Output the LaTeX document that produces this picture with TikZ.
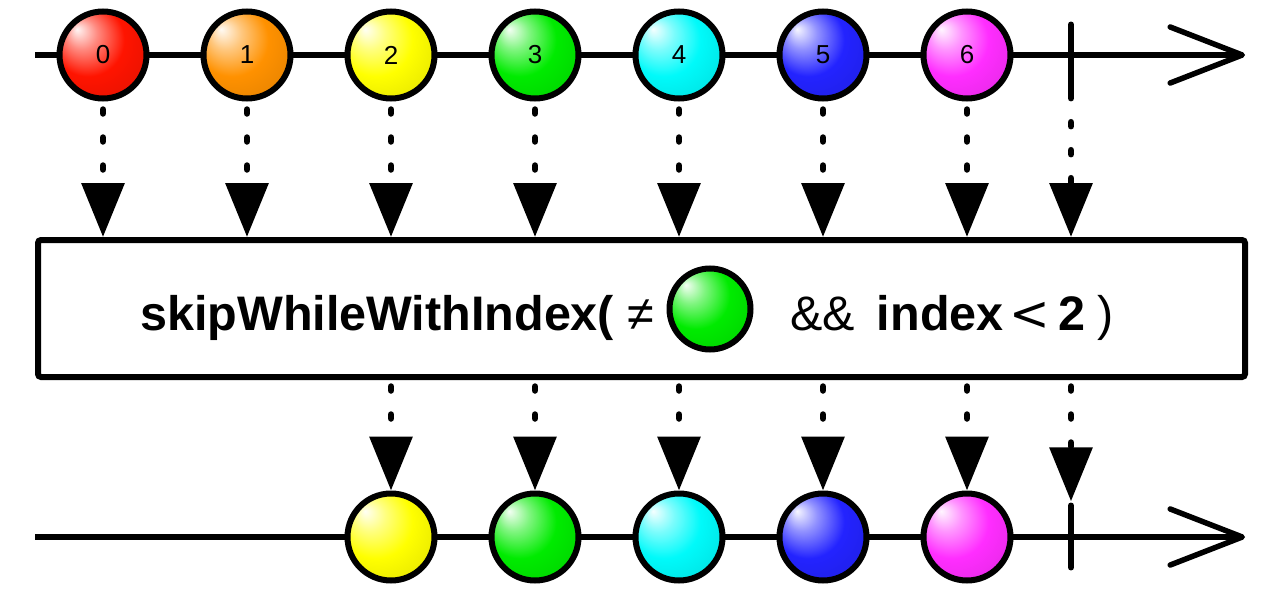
\documentclass[tikz,border=0pt]{standalone}
\usepackage{fontspec}
\setmainfont{Liberation Sans}
\newfontfamily\relfont{DejaVu Sans}
\usetikzlibrary{arrows.meta}

\definecolor{mred}{RGB}{255,20,0}
\definecolor{morange}{RGB}{255,145,0}
\definecolor{myellow}{RGB}{255,255,0}
\definecolor{mgreen}{RGB}{0,235,0}
\definecolor{mcyan}{RGB}{0,250,250}
\definecolor{mblue}{RGB}{35,35,255}
\definecolor{mmagenta}{RGB}{255,45,255}

\colorlet{marblecol}{mred}
\pgfdeclareradialshading[marblecol]{marble}{\pgfqpoint{-15bp}{15bp}}{%
  color(0bp)=(marblecol!4!white); color(9bp)=(marblecol!50!white);
  color(21bp)=(marblecol); color(36bp)=(marblecol!90!black);
  color(50bp)=(marblecol!65!black)}

\begin{document}
\begin{tikzpicture}[
    x=1pt, y=-1pt,
    marble/.style={circle, draw, line width=6pt, minimum size=87pt, inner sep=0pt,
      shading=marble, /utils/exec={\colorlet{marblecol}{#1}},
      font=\fontsize{26}{28}\selectfont},
    timeline/.style={line width=5.5pt, -{Straight Barb[length=72pt, width=56pt, line width=5.5pt, round]}},
    donetick/.style={inner sep=0pt, minimum width=0pt},
    tickline/.style={line width=5.5pt, line cap=round},
    flow/.style={line width=6.5pt, line cap=round, dash pattern=on 4pt off 24pt,
      -{Triangle[length=54pt, width=42pt]}},
    opbox/.style={draw, line width=6pt, rounded corners=3pt, fill=white,
      minimum width=1207pt, minimum height=137pt},
    optext/.style={font=\fontsize{48.5}{56}\selectfont, inner sep=0pt, anchor=base west}
  ]
    \useasboundingbox (0,0) rectangle (1280,610);

    % source stream
    \coordinate (srcstart) at (35,55);
    \coordinate (srcend) at (1245,55);
    \draw[timeline] (srcstart) -- (srcend);
    \node[marble=mred] (m0) at (103,55) {0};
    \node[marble=morange] (m1) at (247,55) {1};
    \node[marble=myellow] (m2) at (391,55) {2};
    \node[marble=mgreen] (m3) at (535,55) {3};
    \node[marble=mcyan] (m4) at (679,55) {4};
    \node[marble=mblue] (m5) at (823,55) {5};
    \node[marble=mmagenta] (m6) at (967,55) {6};
    \node[donetick, minimum height=71pt] (done1) at (1071,60) {};
    \draw[tickline] (done1.north) -- (done1.south);

    % operator
    \node[opbox] (op) at (641.5,308.5) {};
    \node[optext] (opname) at (140,330) {\bfseries skipWhileWithIndex( {\mdseries ≠}};
    \node[marble=mgreen, minimum size=81pt] (cond) at (710,309) {};
    \node[optext] (oprest) at (790,330)
      {\&\&\hspace{22pt}{\bfseries index}\hspace{6pt}{\relfont\mdseries <}\hspace{8pt}{\bfseries 2}\hspace{12pt})};

    \draw[flow, dash phase=20pt] (m0.south) -- (m0.south |- op.north);
    \draw[flow, dash phase=20pt] (m1.south) -- (m1.south |- op.north);
    \draw[flow, dash phase=20pt] (m2.south) -- (m2.south |- op.north);
    \draw[flow, dash phase=20pt] (m3.south) -- (m3.south |- op.north);
    \draw[flow, dash phase=20pt] (m4.south) -- (m4.south |- op.north);
    \draw[flow, dash phase=20pt] (m5.south) -- (m5.south |- op.north);
    \draw[flow, dash phase=20pt] (m6.south) -- (m6.south |- op.north);
    \draw[flow, dash phase=1.5pt] (done1.south) -- (done1.south |- op.north);

    % result stream
    \coordinate (resstart) at (35,537);
    \coordinate (resend) at (1245,537);
    \draw[timeline] (resstart) -- (resend);
    \node[marble=myellow] (r2) at (391,537) {};
    \node[marble=mgreen] (r3) at (535,537) {};
    \node[marble=mcyan] (r4) at (679,537) {};
    \node[marble=mblue] (r5) at (823,537) {};
    \node[marble=mmagenta] (r6) at (967,537) {};
    \node[donetick, minimum height=62pt] (done2) at (1071,536.5) {};
    \draw[tickline] (done2.north) -- (done2.south);

    \draw[flow, dash phase=21.5pt] (r2.north |- op.south) -- (r2.north);
    \draw[flow, dash phase=21.5pt] (r3.north |- op.south) -- (r3.north);
    \draw[flow, dash phase=21.5pt] (r4.north |- op.south) -- (r4.north);
    \draw[flow, dash phase=21.5pt] (r5.north |- op.south) -- (r5.north);
    \draw[flow, dash phase=21.5pt] (r6.north |- op.south) -- (r6.north);
    \draw[flow, dash phase=21.5pt, shorten >=4pt] (done2.north |- op.south) -- (done2.north);
  \end{tikzpicture}
\end{document}
